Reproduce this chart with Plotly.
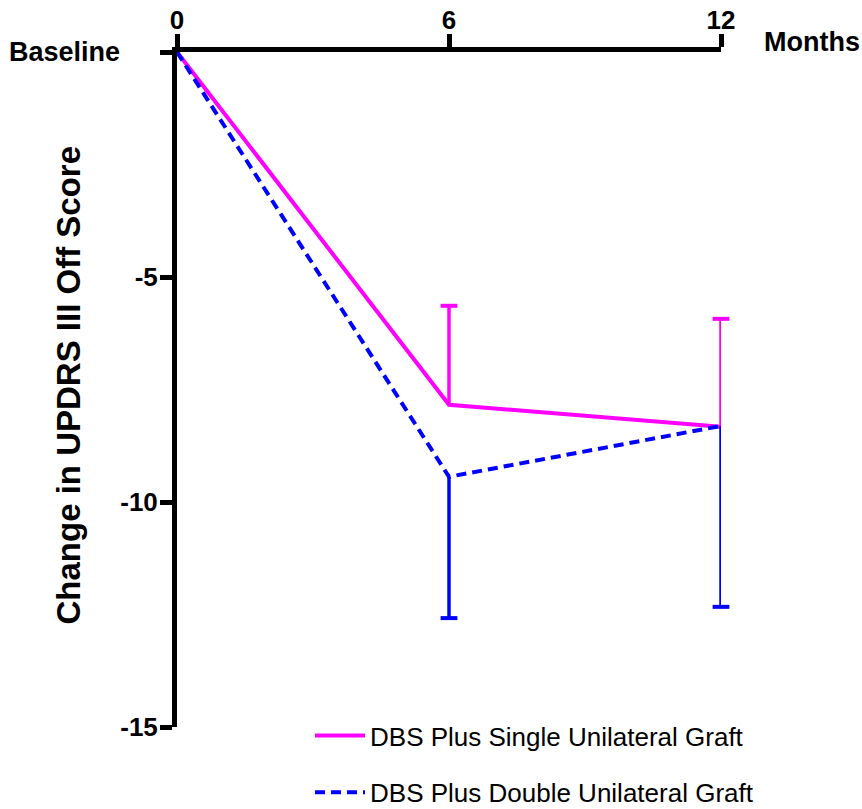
import plotly.graph_objects as go

# ---- data ----
months = [0, 6, 12]
month_ticks = ["0", "6", "12"]
single_mean = [0, -7.84, -8.33]
single_err_up = [0, 2.20, 2.40]
double_mean = [0, -9.44, -8.31]
double_err_down = [0, 3.14, 4.02]
y_tickvals = [0, -5, -10, -15]
y_ticktext = ["", "-5", "-10", "-15"]
series_names = ["DBS Plus Single Unilateral Graft", "DBS Plus Double Unilateral Graft"]

MAGENTA = "#FF00FF"
BLUE = "#0000FF"
FONT = "Liberation Sans"

fig = go.Figure()

# main lines with one-sided error bars (no caps; caps drawn as markers below)
fig.add_trace(go.Scatter(
    x=months, y=single_mean, mode="lines", name=series_names[0],
    line=dict(color=MAGENTA, width=4), legendgroup="a",
    error_y=dict(type="data", symmetric=False, array=single_err_up,
                 arrayminus=[0] * len(months), width=0, thickness=3.5, color=MAGENTA),
    cliponaxis=False,
))
fig.add_trace(go.Scatter(
    x=months, y=double_mean, mode="lines", name=series_names[1],
    line=dict(color=BLUE, width=4, dash="10px,6px"), legendgroup="b",
    error_y=dict(type="data", symmetric=False, array=[0] * len(months),
                 arrayminus=double_err_down, width=0, thickness=3.5, color=BLUE),
    cliponaxis=False,
))

# error bar caps, computed from the data
cap_x_s = [m for m, e in zip(months, single_err_up) if e > 0]
cap_y_s = [v + e for v, e in zip(single_mean, single_err_up) if e > 0]
cap_x_d = [m for m, e in zip(months, double_err_down) if e > 0]
cap_y_d = [v - e for v, e in zip(double_mean, double_err_down) if e > 0]
for cx, cy, col in [(cap_x_s, cap_y_s, MAGENTA), (cap_x_d, cap_y_d, BLUE)]:
    fig.add_trace(go.Scatter(
        x=cx, y=cy, mode="markers", showlegend=False, hoverinfo="skip",
        marker=dict(symbol="line-ew", size=12, line=dict(color=col, width=4)),
        cliponaxis=False,
    ))

bold = dict(family=FONT, size=27, color="black", weight="bold")
tickf = dict(family=FONT, size=26, color="black", weight="bold")

fig.update_layout(
    width=862, height=809,
    margin=dict(l=177, r=141, t=52, b=82, autoexpand=False),
    plot_bgcolor="white", paper_bgcolor="white",
    showlegend=True,
    legend=dict(
        x=0.2445, y=0.022, xanchor="left", yanchor="top",
        font=dict(family=FONT, size=26, color="black"),
        tracegroupgap=20, itemwidth=50, bgcolor="rgba(0,0,0,0)",
    ),
    xaxis=dict(
        range=[0, 12], side="top", tickvals=months, ticktext=month_ticks,
        showline=True, linewidth=5, linecolor="black",
        ticks="outside", ticklen=13, tickwidth=5, tickcolor="black",
        showgrid=False, zeroline=False, tickfont=tickf, ticklabelstandoff=-5,
    ),
    yaxis=dict(
        range=[-15, 0], tickvals=y_tickvals, ticktext=y_ticktext,
        showline=True, linewidth=5, linecolor="black",
        ticks="outside", ticklen=12, tickwidth=5, tickcolor="black",
        showgrid=False, zeroline=False, tickfont=tickf, ticklabelstandoff=-3,
    ),
    annotations=[
        dict(text="Baseline", xref="paper", yref="y", x=0, y=0,
             xanchor="right", yanchor="middle", xshift=-55, showarrow=False, font=bold),
        dict(text="Months", xref="paper", yref="y", x=1, y=0,
             xanchor="left", yanchor="middle", xshift=41, yshift=10, showarrow=False, font=bold),
        dict(text="Change in UPDRS III Off Score", xref="paper", yref="paper", x=0, y=0.5,
             xanchor="center", yanchor="middle", xshift=-109, yshift=4, textangle=-90,
             showarrow=False, font=dict(family=FONT, size=33, color="black", weight="bold")),
    ],
)

fig.write_html("out.html")
